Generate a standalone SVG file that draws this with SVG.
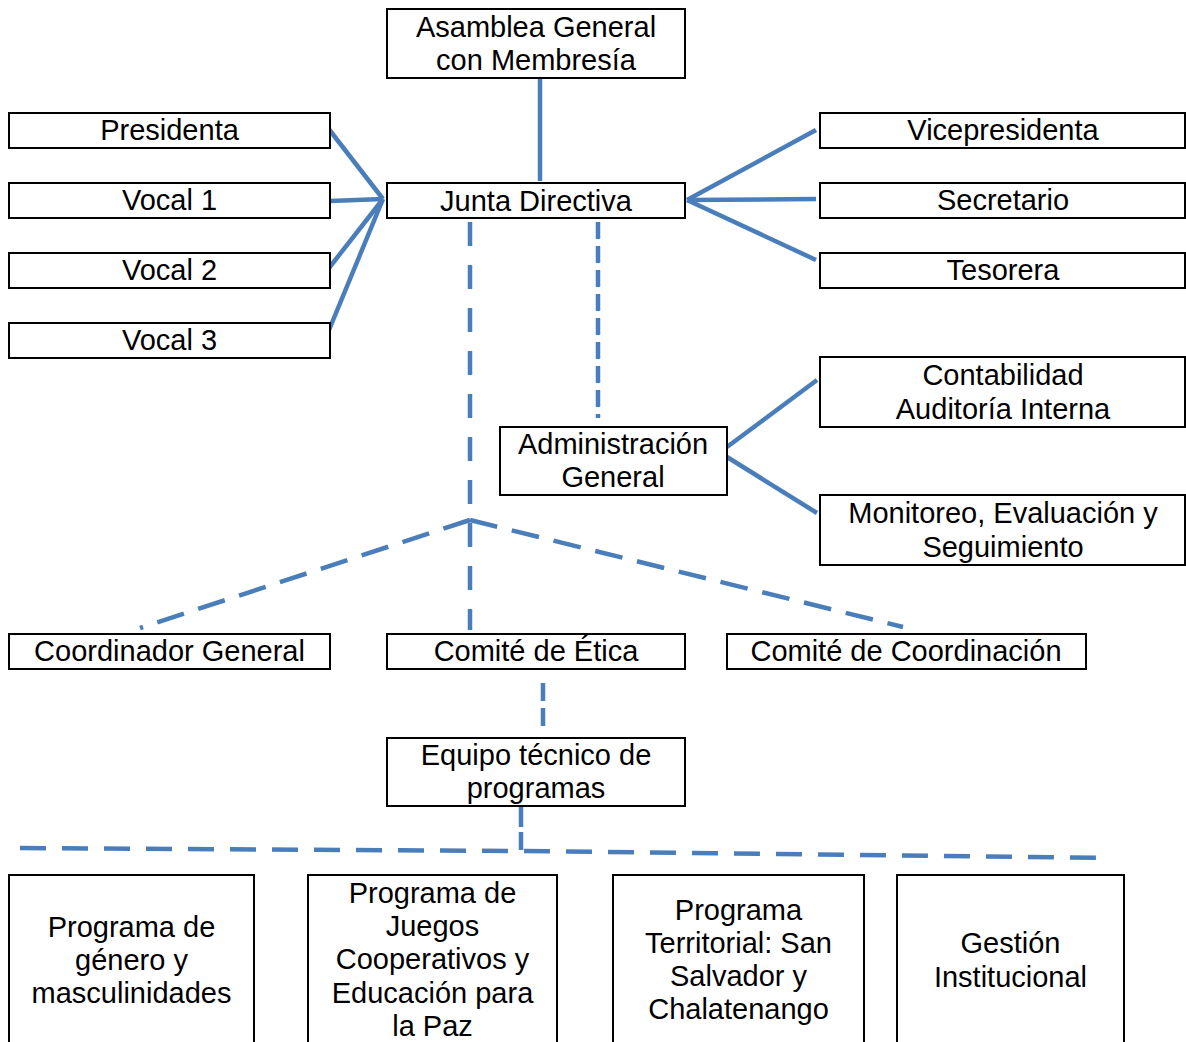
<svg xmlns="http://www.w3.org/2000/svg" width="1186" height="1042" viewBox="0 0 1186 1042">
<style>
.box{fill:#fff;stroke:#000;stroke-width:2}
text{font-family:"Liberation Sans",Arial,sans-serif;font-size:29px;fill:#000;text-anchor:middle}
.c{fill:none;stroke:#4A7EBB;stroke-width:4.5}
.d1{stroke-dasharray:24 19}
.d2{stroke-dasharray:17 7}
.d3{stroke-dasharray:28 15}
</style>
<rect width="1186" height="1042" fill="#fff"/>
<g id="connectors">
<line class="c" x1="540" y1="78" x2="540" y2="181"/>
<line class="c" x1="383" y1="199" x2="328" y2="128"/>
<line class="c" x1="383" y1="199" x2="330" y2="201"/>
<line class="c" x1="383" y1="199" x2="329" y2="268"/>
<line class="c" x1="383" y1="199" x2="329" y2="330"/>
<line class="c" x1="687" y1="200" x2="816" y2="130"/>
<line class="c" x1="687" y1="200" x2="816" y2="199"/>
<line class="c" x1="687" y1="200" x2="816" y2="260"/>
<line class="c" x1="727" y1="447" x2="817" y2="380"/>
<line class="c" x1="727" y1="457" x2="817" y2="513"/>
<line class="c d1" x1="470" y1="222" x2="470" y2="630"/>
<line class="c d2" x1="598" y1="222" x2="598" y2="418"/>
<line class="c d3" x1="470" y1="520" x2="140" y2="628"/>
<line class="c d3" x1="470" y1="520" x2="903" y2="627"/>
<line class="c" x1="543" y1="683" x2="543" y2="726" style="stroke-dasharray:18 7"/>
<line class="c" x1="521" y1="806" x2="521" y2="850" style="stroke-dasharray:21 5"/>
<polyline class="c" style="stroke-dasharray:26 16" points="20,848 521,851 1110,858"/>
</g>
<g id="asamblea"><rect class="box" x="387" y="9" width="298" height="69"/><text x="536" y="37">Asamblea General</text><text x="536" y="70">con Membresía</text></g>
<g id="junta"><rect class="box" x="387" y="183" width="298" height="35"/><text x="536" y="211">Junta Directiva</text></g>
<g id="presidenta"><rect class="box" x="9" y="113" width="321" height="35"/><text x="169.5" y="140">Presidenta</text></g>
<g id="vocal1"><rect class="box" x="9" y="183" width="321" height="35"/><text x="169.5" y="210">Vocal 1</text></g>
<g id="vocal2"><rect class="box" x="9" y="253" width="321" height="35"/><text x="169.5" y="280">Vocal 2</text></g>
<g id="vocal3"><rect class="box" x="9" y="323" width="321" height="35"/><text x="169.5" y="350">Vocal 3</text></g>
<g id="vicepresidenta"><rect class="box" x="820" y="113" width="365" height="35"/><text x="1003" y="140">Vicepresidenta</text></g>
<g id="secretario"><rect class="box" x="820" y="183" width="365" height="35"/><text x="1003" y="210">Secretario</text></g>
<g id="tesorera"><rect class="box" x="820" y="253" width="365" height="35"/><text x="1003" y="280">Tesorera</text></g>
<g id="contabilidad"><rect class="box" x="820" y="357" width="365" height="70"/><text x="1003" y="385">Contabilidad</text><text x="1003" y="419">Auditoría Interna</text></g>
<g id="monitoreo"><rect class="box" x="820" y="495" width="365" height="70"/><text x="1003" y="523">Monitoreo, Evaluación y</text><text x="1003" y="557">Seguimiento</text></g>
<g id="administracion"><rect class="box" x="500" y="427" width="227" height="68"/><text x="613" y="454">Administración</text><text x="613" y="487">General</text></g>
<g id="coordinador"><rect class="box" x="9" y="634" width="321" height="35"/><text x="169.5" y="661">Coordinador General</text></g>
<g id="etica"><rect class="box" x="387" y="634" width="298" height="35"/><text x="536" y="661">Comité de Ética</text></g>
<g id="coordinacion"><rect class="box" x="727" y="634" width="359" height="35"/><text x="906" y="661">Comité de Coordinación</text></g>
<g id="equipo"><rect class="box" x="387" y="738" width="298" height="68"/><text x="536" y="765">Equipo técnico de</text><text x="536" y="798">programas</text></g>
<g id="genero"><rect class="box" x="9" y="875" width="245" height="180"/><text x="131.5" y="937">Programa de</text><text x="131.5" y="970">género y</text><text x="131.5" y="1003">masculinidades</text></g>
<g id="juegos"><rect class="box" x="308" y="875" width="249" height="180"/><text x="432.5" y="903">Programa de</text><text x="432.5" y="936">Juegos</text><text x="432.5" y="969">Cooperativos y</text><text x="432.5" y="1003">Educación para</text><text x="432.5" y="1036">la Paz</text></g>
<g id="territorial"><rect class="box" x="613" y="875" width="251" height="180"/><text x="738.5" y="920">Programa</text><text x="738.5" y="953">Territorial: San</text><text x="738.5" y="986">Salvador y</text><text x="738.5" y="1019">Chalatenango</text></g>
<g id="gestion"><rect class="box" x="897" y="875" width="227" height="180"/><text x="1010.5" y="953">Gestión</text><text x="1010.5" y="987">Institucional</text></g>
</svg>
